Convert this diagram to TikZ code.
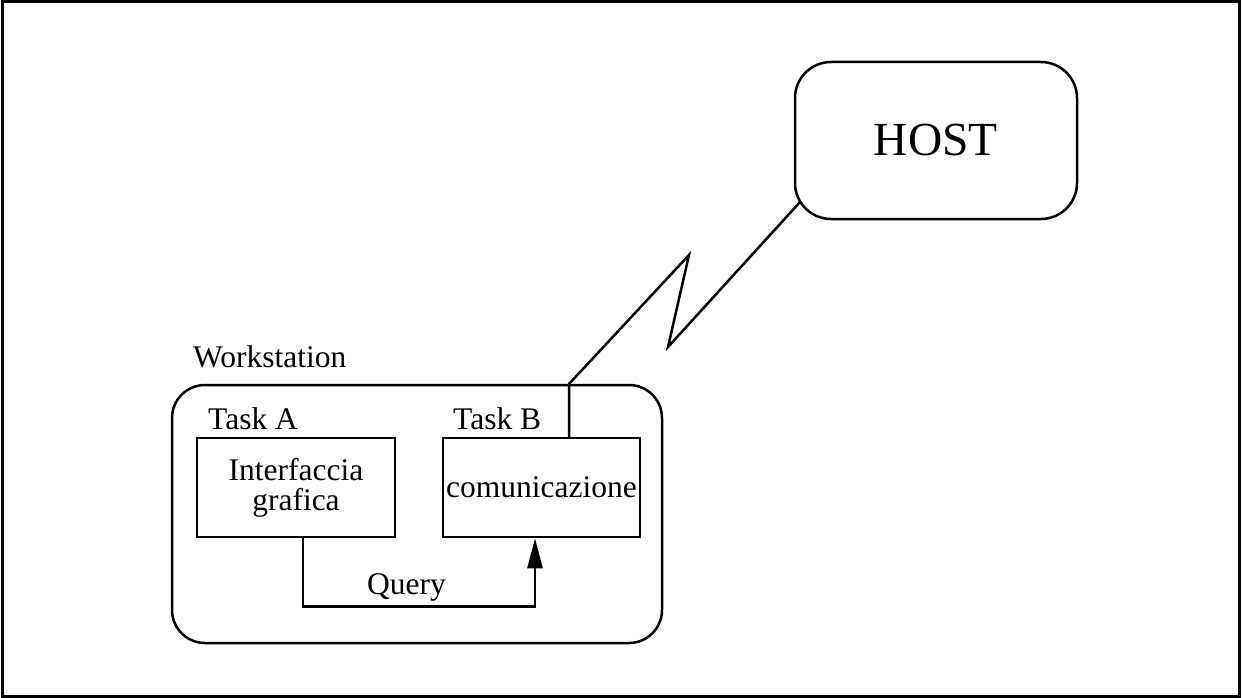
\documentclass[tikz,border=0pt]{standalone}
\usepackage{fontspec}
\setmainfont{Liberation Serif}
\usetikzlibrary{arrows.meta}
\begin{document}
\begin{tikzpicture}[x=1pt,y=-1pt,
  every node/.style={inner sep=0pt},
  ln/.style={line width=2.5pt},
  txt/.style={font=\fontsize{31.5}{30}\selectfont},
  bigtxt/.style={font=\fontsize{47.5}{50}\selectfont},
  taskbox/.style={ln,draw,rectangle,txt,align=center,minimum width=#1,minimum height=99pt},
  roundbox/.style={ln,draw,rectangle}
]
\useasboundingbox (0,0) rectangle (1242,698);
\draw[line width=3pt] (2.5,2) rectangle (1239.5,696.5);

\node[roundbox,rounded corners=36pt,minimum width=282pt,minimum height=157pt,bigtxt] (host) at (936,140.5) {HOST};
\node[roundbox,rounded corners=33pt,minimum width=490pt,minimum height=258pt] (ws) at (417,514) {};
\node[txt,anchor=base west] (wslabel) at (193,367) {Workstation};

\node[taskbox=198pt] (ta) at (296,487.5) {Interfaccia\\grafica};
\node[taskbox=197pt] (tb) at (541.5,487.5) {comunicazione};
\node[txt,anchor=base west] (talabel) at (208,429) {Task A};
\node[txt,anchor=base west] (tblabel) at (453,429) {Task B};

\coordinate (j) at (569,384);
\coordinate (z1) at (689,255);
\coordinate (z2) at (668,347);
\coordinate (hc) at (800.5,201.5);
\draw[ln,line join=miter] (j |- tb.north) -- (j) -- (z1) -- (z2) -- (hc);

\draw[ln,-{Triangle[length=30pt,width=15pt]}] ([xshift=7pt]ta.south) -- ++(0,68) coordinate (qb) -| ([xshift=-6.5pt]tb.south);
\node[txt,anchor=base] (query) at (406.5,594) {Query};
\end{tikzpicture}
\end{document}
